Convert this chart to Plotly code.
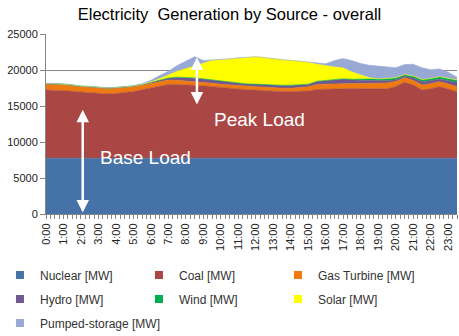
import plotly.graph_objects as go

hours = [i * 0.5 for i in range(48)]
tick_labels = [f"{h}:00" for h in range(24)]

nuclear = [7760] * 48
coal_top = [17220, 17200, 17130, 17050, 16900, 16850, 16760, 16680, 16750, 16850,
            17000, 17270, 17500, 17750, 18000, 18000, 17950, 17900, 17800, 17690,
            17550, 17450, 17350, 17250, 17220, 17150, 17050, 17000, 16990, 17050,
            17080, 17300, 17350, 17400, 17460, 17420, 17400, 17380, 17360, 17400,
            17700, 18300, 17900, 17220, 17400, 17690, 17350, 16990]
coal = [c - n for c, n in zip(coal_top, nuclear)]
gas = [790, 790, 790, 760, 740, 740, 740, 710, 700, 680, 650, 600, 600, 600, 600, 560,
       530, 500, 480, 460, 460, 460, 470, 470, 470, 470, 470, 470, 480, 530, 600, 690,
       690, 690, 690, 690, 720, 750, 780, 790, 700, 620, 650, 700, 700, 690, 700, 700]
hydro = [80, 80, 80, 80, 80, 80, 80, 80, 80, 80, 90, 100, 150, 200, 250, 420,
         480, 470, 460, 450, 400, 370, 340, 320, 320, 330, 350, 380, 390, 350, 320, 420,
         480, 520, 550, 500, 480, 450, 350, 320, 250, 200, 350, 460, 420, 370, 450, 600]
wind = [30] * 32 + [40, 50, 80, 100, 150, 200, 250, 280, 280, 250, 260, 300, 300, 320, 330, 330]
solar = [0] * 12 + [50, 200, 450, 800, 1200, 1700, 2200, 2700, 3000, 3250, 3500, 3700,
                    3800, 3750, 3650, 3550, 3450, 3250, 3050, 2350, 2000, 1750, 1500, 1000,
                    550, 150] + [0] * 10
pumped = [40] * 10 + [60, 100, 250, 450, 500, 800, 1050, 1250, 350, 60, 0, 0, 0, 0,
                      0, 0, 0, 0, 0, 0, 0, 150, 300, 900, 1300, 1590, 1600, 1720, 1810, 1660,
                      1390, 1380, 1640, 1620, 1230, 1080, 870, 380]

series = [
    ("Nuclear [MW]", nuclear, "#4572A7"),
    ("Coal [MW]", coal, "#AA4643"),
    ("Gas Turbine [MW]", gas, "#EE7A10"),
    ("Hydro [MW]", hydro, "#71588F"),
    ("Wind [MW]", wind, "#00B050"),
    ("Solar [MW]", solar, "#FFFF00"),
    ("Pumped-storage [MW]", pumped, "#98A9D6"),
]
legend_rows = ["legend", "legend", "legend", "legend2", "legend2", "legend2", "legend3"]

fig = go.Figure()
for name, vals, col in series:
    fig.add_trace(go.Scatter(x=hours, y=vals, name=name, stackgroup="one", mode="lines",
                             line=dict(width=0.6, color=col), fillcolor=col, showlegend=False))
# legend entries with small square keys
for (name, vals, col), lg in zip(series, legend_rows):
    fig.add_trace(go.Scatter(x=[None], y=[None], name=name, mode="markers", legend=lg,
                             marker=dict(symbol="square", size=8, color=col)))

leg_common = dict(orientation="h", x=-0.112, xanchor="left", yanchor="middle",
                  entrywidthmode="pixels", font=dict(size=12, color="#333"),
                  traceorder="normal", bgcolor="rgba(0,0,0,0)")

fig.update_layout(
    width=459, height=336, margin=dict(l=46, r=2, t=34, b=122, autoexpand=False),
    paper_bgcolor="white", plot_bgcolor="white",
    font=dict(family="Liberation Sans, Arial, sans-serif", size=11, color="#222"),
    title=dict(text="Electricity  Generation by Source - overall",
               font=dict(family="Liberation Sans, Arial, sans-serif", size=16.5, color="black"),
               x=0.5, xanchor="center", y=0.975, yanchor="top"),
    showlegend=True,
    legend=dict(y=(214 - 275) / 180, entrywidth=94, **leg_common),
    legend2=dict(y=(214 - 299) / 180, entrywidth=94, **leg_common),
    legend3=dict(y=(214 - 323) / 180, entrywidth=160, **leg_common),
)
fig.update_xaxes(range=[0, 23.5], tickvals=list(range(24)), ticktext=tick_labels,
                 tickangle=-90, showgrid=False, showline=True, linecolor="#868686",
                 ticks="outside", ticklen=4, tickcolor="#868686", automargin=False,
                 minor=dict(dtick=0.25, ticks="outside", ticklen=4, tickcolor="#868686", showgrid=False),
                 tickfont=dict(size=11, color="#222"), zeroline=False)
fig.update_yaxes(range=[0, 25000], dtick=5000, showgrid=True, gridcolor="#868686", gridwidth=1,
                 showline=True, linecolor="#868686", ticks="outside", ticklen=5, automargin=False,
                 tickcolor="#868686", tickformat="d", zeroline=False,
                 tickfont=dict(size=11, color="#222"))

arrow_style = dict(showarrow=True, arrowhead=2, arrowside="end+start", arrowsize=1,
                   arrowwidth=2.5, arrowcolor="white", axref="x", ayref="y", text="")
fig.add_annotation(x=2.1, y=200, ax=2.1, ay=14700, **arrow_style)
fig.add_annotation(x=8.63, y=21750, ax=8.63, ay=15000, **arrow_style)
label_font = dict(family="Liberation Sans, Arial, sans-serif", size=19, color="white")
fig.add_annotation(x=5.7, y=7900, text="Base Load", showarrow=False, font=label_font)
fig.add_annotation(x=12.2, y=13100, text="Peak Load", showarrow=False, font=label_font)

fig.write_html("out.html")
